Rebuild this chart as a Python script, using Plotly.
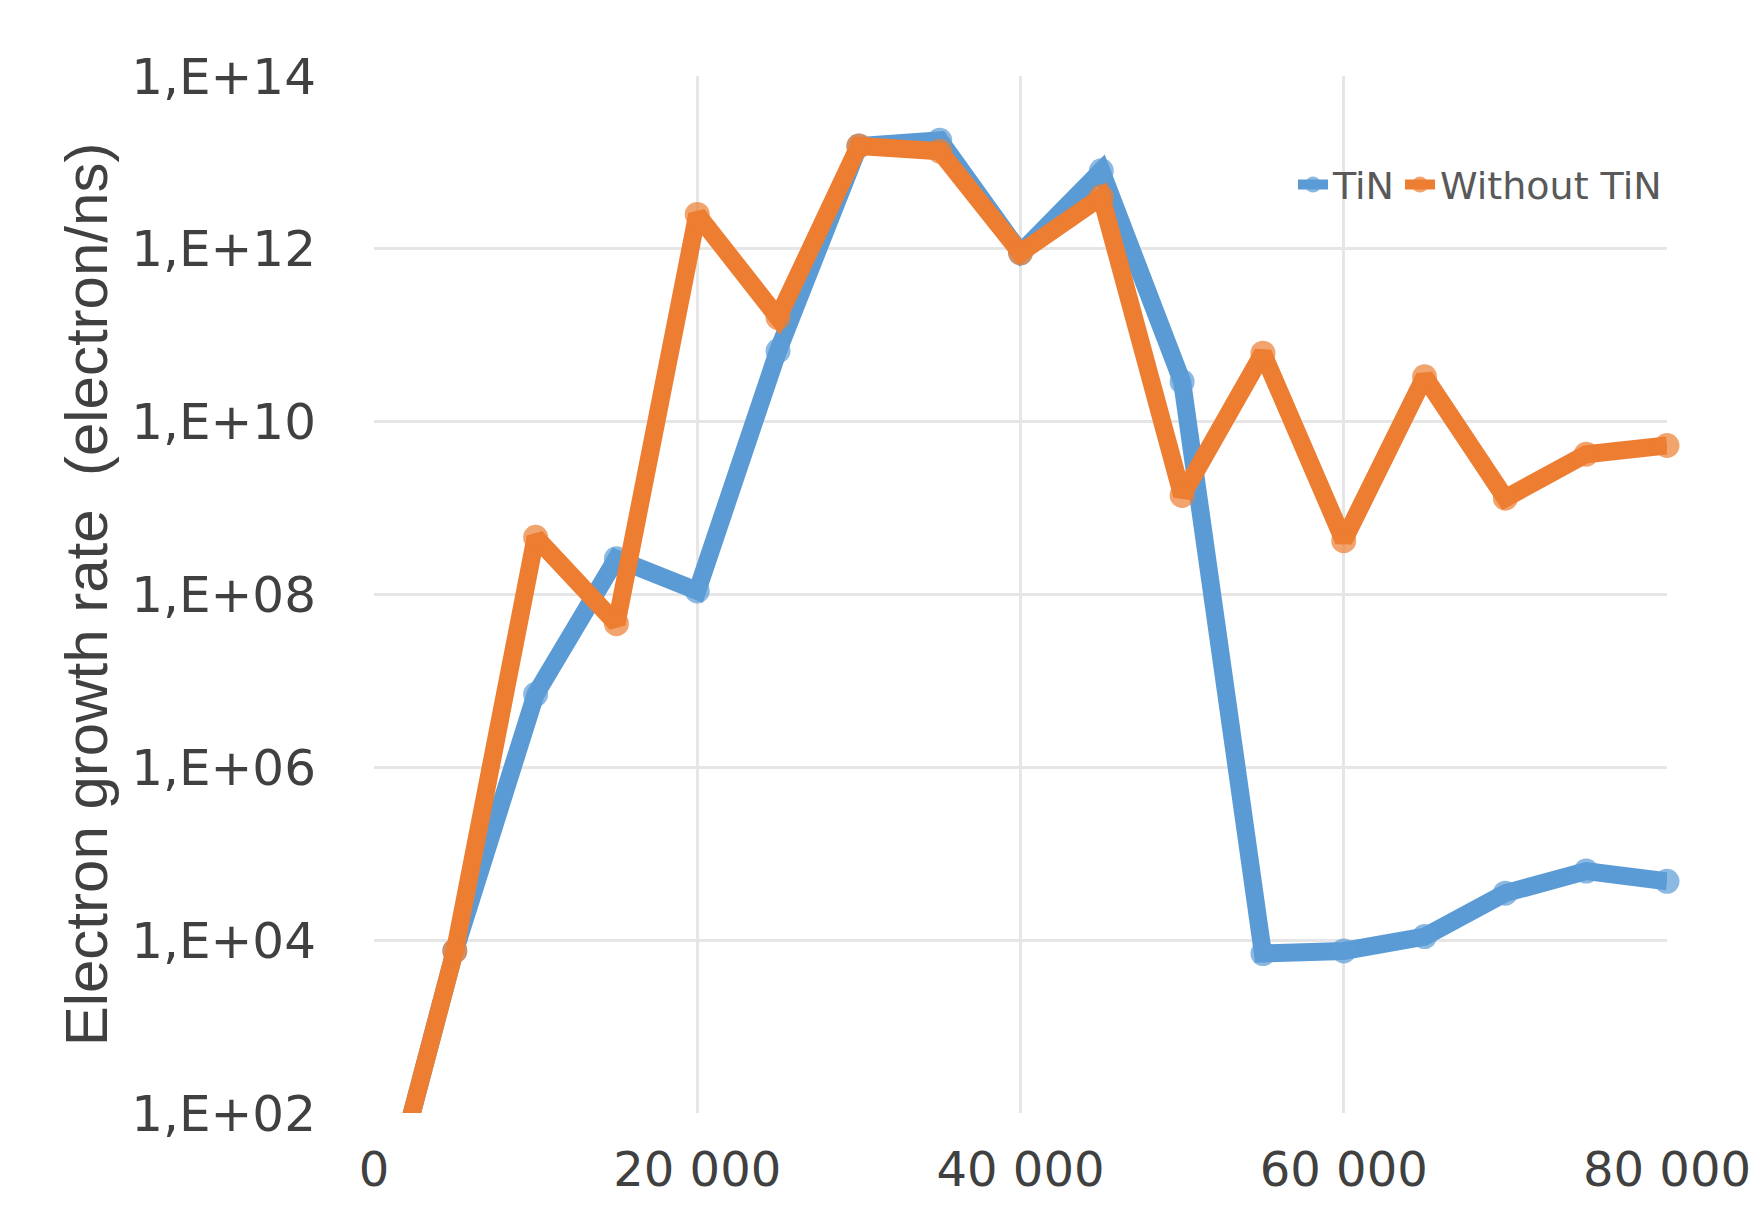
import plotly.graph_objects as go

# Voltage-like x positions and electron growth rates for the two configurations
x_vals = [0, 5000, 10000, 15000, 20000, 25000, 30000, 35000, 40000,
          45000, 50000, 55000, 60000, 65000, 70000, 75000, 80000]
tin = [2.2, 7.5e3, 7e6, 2.6e8, 1.1e8, 6.6e10, 1.55e13, 1.8e13, 9e11,
       8e12, 2.9e10, 7e3, 7.5e3, 1.1e4, 3.5e4, 6.3e4, 4.8e4]
without_tin = [2.2, 7.5e3, 4.6e8, 4.6e7, 2.5e12, 1.6e11, 1.55e13, 1.35e13, 9e11,
               4e12, 1.4e9, 6.2e10, 4.2e8, 3.3e10, 1.3e9, 4.2e9, 5.3e9]

y_tick_vals = [1e2, 1e4, 1e6, 1e8, 1e10, 1e12, 1e14]
y_tick_text = ["1,E+02", "1,E+04", "1,E+06", "1,E+08", "1,E+10", "1,E+12", "1,E+14"]
x_tick_vals = [0, 20000, 40000, 60000, 80000]
x_tick_text = ["0", "20 000", "40 000", "60 000", "80 000"]

BLUE = "#5B9BD5"
ORANGE = "#ED7D31"

# first point sits below the visible range; hide its marker
marker_sizes = [0] + [25] * (len(x_vals) - 1)

fig = go.Figure()
fig.add_trace(go.Scatter(
    x=x_vals, y=tin, name="TiN", mode="lines+markers",
    line=dict(color=BLUE, width=18),
    marker=dict(color=BLUE, size=marker_sizes, line=dict(width=0)),
    cliponaxis=False,
))
fig.add_trace(go.Scatter(
    x=x_vals, y=without_tin, name="Without TiN", mode="lines+markers",
    line=dict(color=ORANGE, width=18),
    marker=dict(color=ORANGE, size=marker_sizes, line=dict(width=0)),
    cliponaxis=False,
))

fig.update_layout(
    width=1763, height=1222,
    margin=dict(l=374, r=93, t=76, b=109),
    paper_bgcolor="white", plot_bgcolor="white",
    font=dict(family="DejaVu Sans", color="#404040"),
    legend=dict(
        orientation="h", x=1.0, xanchor="right", y=0.895, yanchor="middle",
        font=dict(family="DejaVu Sans", size=38, color="#595959"),
        bgcolor="rgba(0,0,0,0)", itemwidth=30, tracegroupgap=0,
    ),
    showlegend=True,
)

fig.update_xaxes(
    range=[0, 80000], tickvals=x_tick_vals, ticktext=x_tick_text,
    showgrid=True, gridcolor="#e6e6e6", gridwidth=3,
    zeroline=False, showline=False, ticks="",
    tickfont=dict(size=48, color="#404040"), ticklabelstandoff=24,
)
fig.update_yaxes(
    type="log", range=[2, 14], tickvals=y_tick_vals, ticktext=y_tick_text,
    showgrid=True, gridcolor="#e6e6e6", gridwidth=3,
    zeroline=False, showline=False, ticks="",
    tickfont=dict(size=50, color="#404040"), ticklabelstandoff=57,
    title=dict(text="Electron growth rate  (electron/ns)",
               font=dict(family="Liberation Sans", size=60, color="#404040"),
               standoff=4),
)

fig.write_html("out.html")
